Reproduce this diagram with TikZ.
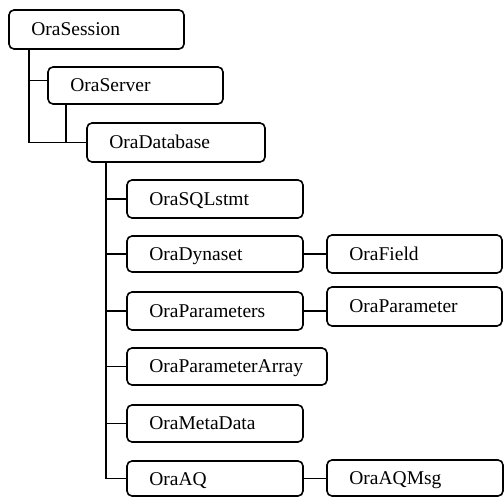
\documentclass[tikz,border=0pt]{standalone}
\usepackage{fontspec}
\setmainfont{Liberation Serif}
\tikzset{
  box/.style={draw=black, line width=1.6pt, rounded corners=5pt, fill=white,
    inner xsep=0pt, inner ysep=0pt},
  lbl/.style={anchor=base west, inner sep=0pt, font=\fontsize{19.5}{22}\selectfont},
  conn/.style={draw=black, line width=1.6pt}
}
\newcommand\bx[6]{\node[box, minimum width={#4-#2}, minimum height={#5-#3}] (#1) at ({(#2+#4)/2},{(#3+#5)/2}) {};
\node[lbl] (#1-t) at ([xshift=23pt,yshift=-6.5pt]#1.west) {#6};}
\begin{document}
\begin{tikzpicture}[x=1pt,y=-1pt]
\useasboundingbox (0,0) rectangle (504,497);
\fill[white] (0,0) rectangle (504,497);
\bx{sess}{9}{10}{184}{49}{OraSession}
\bx{srv}{48}{67}{223}{104}{OraServer}
\bx{db}{87}{123}{265}{162}{OraDatabase}
\bx{sql}{127}{180}{303}{218}{OraSQLstmt}
\bx{dyn}{127}{236}{303}{272}{OraDynaset}
\bx{fld}{327}{235}{502}{273}{OraField}
\bx{par}{127}{292}{303}{330}{OraParameters}
\bx{prm}{327}{287}{502}{326}{OraParameter}
\bx{pa}{127}{348}{327}{385}{OraParameterArray}
\bx{md}{127}{405}{303}{442}{OraMetaData}
\bx{aq}{127}{461}{303}{496}{OraAQ}
\bx{aqm}{327}{460}{503}{496}{OraAQMsg}
% connectors
\coordinate (sv) at ([xshift=21pt]sess.south west);
\coordinate (rv) at ([xshift=19pt]srv.south west);
\coordinate (dv) at ([xshift=20pt]db.south west);
\draw[conn] (sv) |- ([yshift=5pt]srv.west);
\draw[conn] (sv) |- (db.west);
\draw[conn] (rv) |- (db.west);
\draw[conn] (dv) |- (aq.west);
\draw[conn] (sql.west) -- (sql.west -| dv);
\draw[conn] (dyn.west) -- (dyn.west -| dv);
\draw[conn] (par.west) -- (par.west -| dv);
\draw[conn] (pa.west) -- (pa.west -| dv);
\draw[conn] (md.west) -- (md.west -| dv);
\draw[conn] (dyn.east) -- (fld.west);
\draw[conn] (par.east) -- (par.east -| prm.west);
\draw[conn] (aq.east) -- (aq.east -| aqm.west);
\end{tikzpicture}
\end{document}
